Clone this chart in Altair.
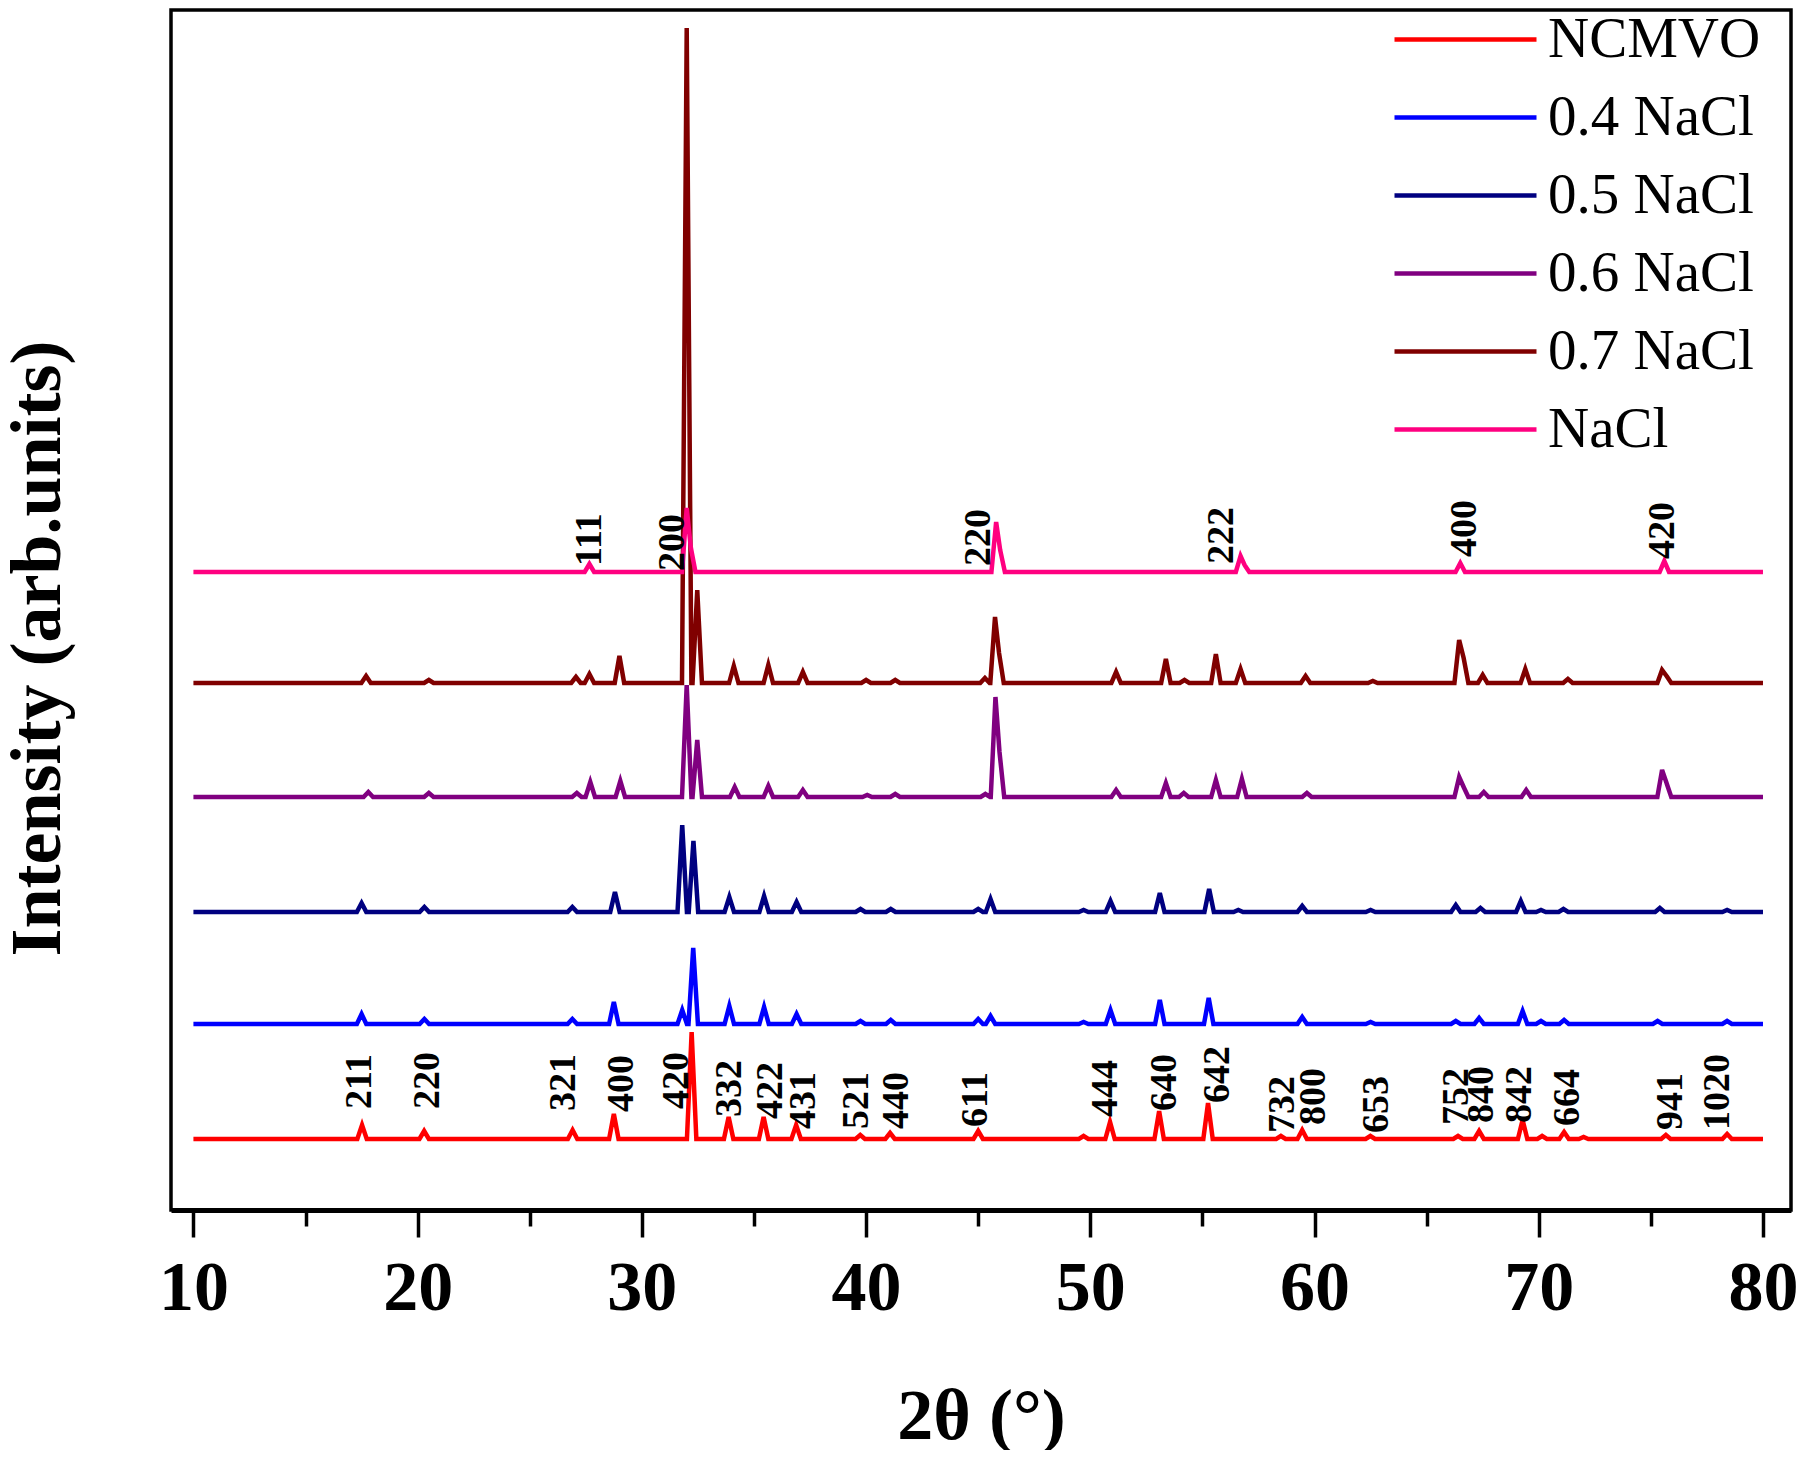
import altair as alt
import pandas as pd

# ---------------- data ----------------
series_names = ["NCMVO", "0.4 NaCl", "0.5 NaCl", "0.6 NaCl", "0.7 NaCl", "NaCl"]
series_colors = ["#FF0000", "#0000FF", "#000080", "#800080", "#800000", "#FF0080"]
series_offsets = [71, 186, 298, 413, 527, 638]

ncmvo_pos = [17.52, 20.29, 26.91, 28.75, 32.22, 33.87, 35.43, 36.88, 39.74, 41.07, 45.0, 49.7,
             50.88, 53.07, 55.25, 58.5, 59.45, 62.49, 66.4, 67.34, 69.28, 70.15, 71.13, 72.0,
             75.67, 78.4]
ncmvo_h = [14, 8, 9, 25, 107, 22, 22, 14, 4, 6, 8, 3,
           17, 28, 36, 3, 9, 3, 3, 8, 19, 3, 7, 2,
           4, 5]

nacl04_pos = [17.5, 20.3, 26.9, 28.75, 31.8, 32.29, 33.9, 35.45, 36.9, 39.75, 41.1, 45.0, 45.55,
              49.7, 50.9, 53.1, 55.28, 59.45, 62.5, 66.3, 67.34, 69.28, 70.1, 71.13, 75.3, 78.4]
nacl04_h = [10, 5, 5, 22, 14, 76, 18, 17, 10, 3, 4, 5, 8,
            2, 14, 24, 26, 7, 2, 3, 6, 13, 3, 4, 3, 3]

nacl05_pos = [17.5, 20.3, 26.9, 28.8, 31.8, 32.3, 33.9, 35.45, 36.9, 39.75, 41.1, 45.0, 45.55,
              49.7, 50.9, 53.1, 55.3, 56.6, 59.45, 62.5, 66.3, 67.4, 69.2, 70.1, 71.1, 75.4, 78.4]
nacl05_h = [9, 5, 5, 20, 87, 71, 15, 16, 10, 3, 3, 3, 13,
            2, 11, 19, 23, 2, 6, 2, 7, 4, 11, 2, 3, 4, 2]

nacl06_pos = [17.8, 20.5, 27.1, 27.7, 29.04, 32.0, 32.47, 34.14, 35.64, 37.18, 40.05, 41.3, 45.32,
              45.77, 45.95, 51.15, 53.37, 54.17, 55.6, 56.76, 59.66, 66.45, 66.65, 67.55, 69.44,
              75.5, 75.7]
nacl06_h = [5, 4, 4, 15, 16, 112, 57, 10, 11, 7, 2, 3, 3,
            100, 45, 7, 14, 4, 17, 18, 4, 20, 10, 5, 7,
            27, 14]

nacl07_pos = [17.7, 20.5, 27.06, 27.66, 29.0, 32.0, 32.47, 34.1, 35.64, 37.18, 40.0, 41.3, 45.3,
              45.75, 45.93, 51.15, 53.37, 54.2, 55.6, 56.7, 59.6, 62.6, 66.45, 66.65, 67.5, 69.4,
              71.3, 75.5, 75.7]
nacl07_h = [7, 3, 6, 9, 27, 655, 93, 17, 18, 11, 3, 3, 5,
            66, 30, 11, 24, 3, 29, 14, 7, 2, 43, 25, 8, 14,
            4, 13, 7]

nacl_pos = [27.66, 32.0, 32.18, 45.8, 45.98, 56.7, 56.88, 66.5, 75.6]
nacl_h = [8, 64, 25, 50, 22, 16, 7, 9, 11]

ncmvo_hkl = ["211", "220", "321", "400", "420", "332", "422", "431", "521", "440", "611", "444",
             "640", "642", "732", "800", "653", "752", "840", "842", "664", "941", "1020"]
ncmvo_hkl_x = [17.43, 20.48, 26.51, 29.1, 31.55, 33.95, 35.77, 37.21, 39.59, 41.4, 44.92, 50.72,
               53.32, 55.71, 58.58, 59.99, 62.78, 66.37, 67.47, 69.16, 71.3, 75.89, 78.0]
ncmvo_hkl_y = [30, 30, 28, 27, 30, 22, 20, 10, 10, 10, 12, 22,
               28, 36, 6, 14, 6, 14, 16, 16, 13, 9, 9]

nacl_hkl = ["111", "200", "220", "222", "400", "420"]
nacl_hkl_x = [27.68, 31.4, 45.03, 55.87, 66.7, 75.53]
nacl_hkl_y = [6, 1, 6, 8, 15, 13]

x_ticks = list(range(10, 81, 5))

# ---------------- build tables ----------------
HALF = 0.21
peak_lists = [(ncmvo_pos, ncmvo_h), (nacl04_pos, nacl04_h), (nacl05_pos, nacl05_h),
              (nacl06_pos, nacl06_h), (nacl07_pos, nacl07_h), (nacl_pos, nacl_h)]

rows = []
for name, off, (pos, hts) in zip(series_names, series_offsets, peak_lists):
    xs = sorted(set([10.0, 80.0] + [round(p + d, 4) for p in pos for d in (-HALF, 0.0, HALF)]))
    for x in xs:
        v = max([h * max(0.0, 1 - abs(x - p) / HALF) for p, h in zip(pos, hts)] + [0.0])
        rows.append({"series": name, "theta": x, "intensity": off + v})
lines_df = pd.DataFrame(rows)

lab_rows = []
for t, x, y in zip(ncmvo_hkl, ncmvo_hkl_x, ncmvo_hkl_y):
    lab_rows.append({"label": t, "theta": x, "intensity": series_offsets[0] + y})
for t, x, y in zip(nacl_hkl, nacl_hkl_x, nacl_hkl_y):
    lab_rows.append({"label": t, "theta": x, "intensity": series_offsets[5] + y})
labels_df = pd.DataFrame(lab_rows)

# ---------------- encodings ----------------
SERIF = "Liberation Serif"

x_axis = alt.Axis(
    values=x_ticks,
    labelExpr="datum.value % 10 === 0 ? datum.label : ''",
    tickSize={"condition": {"test": "datum.value % 10 === 0", "value": 27}, "value": 16},
    tickWidth=3.5, tickColor="black",
    domainColor="black", domainWidth=5,
    labelFont=SERIF, labelFontWeight="bold", labelFontSize=70, labelColor="black",
    labelBaseline="alphabetic", labelPadding=72, labelFlush=False, labelOverlap=False,
    grid=False,
    title="2θ (°)", titleFont=SERIF, titleFontWeight="bold", titleFontSize=72,
    titleColor="black", titleBaseline="alphabetic", titleY=228,
)
y_axis = alt.Axis(
    domain=False, ticks=False, labels=False, grid=False,
    title="Intensity (arb.units)", titleFont=SERIF, titleFontWeight="bold",
    titleFontSize=72, titleColor="black", titleAngle=270, titleAlign="center",
    titleBaseline="alphabetic", titleX=-112, titleY=638,
)
X = alt.X("theta:Q", scale=alt.Scale(domain=[9, 81.25], nice=False, zero=False), axis=x_axis)
Y = alt.Y("intensity:Q", scale=alt.Scale(domain=[0, 1200], nice=False, zero=False), axis=y_axis)
C = alt.Color(
    "series:N",
    scale=alt.Scale(domain=series_names, range=series_colors),
    legend=alt.Legend(
        orient="none", legendX=1221, legendY=1, title=None,
        symbolType="stroke", symbolSize=20164, symbolStrokeWidth=4.5,
        labelFont=SERIF, labelFontSize=57, labelColor="black",
        labelOffset=9, labelLimit=600, clipHeight=57, rowPadding=20,
        padding=0, symbolOffset=0,
    ),
)

base = alt.Chart(lines_df)
layers = []
for name in series_names:
    layers.append(
        base.transform_filter(alt.datum.series == name)
        .mark_line(strokeWidth=4.5, clip=True)
        .encode(x=X, y=Y, color=C)
    )

text_layer = alt.Chart(labels_df).mark_text(
    angle=270, align="left", baseline="middle",
    font=SERIF, fontWeight="bold", fontSize=38, color="black",
).encode(x=X, y=Y, text="label:N")
layers.append(text_layer)

chart = alt.layer(*layers).properties(
    width=1620, height=1200,
    autosize=alt.AutoSizeParams(type="none"),
    padding={"left": 163, "top": 2, "right": 8, "bottom": 240},
    background="white",
).configure_view(stroke="black", strokeWidth=3.5)

chart.save("out.html", embed_options={"renderer": "svg", "actions": False})
